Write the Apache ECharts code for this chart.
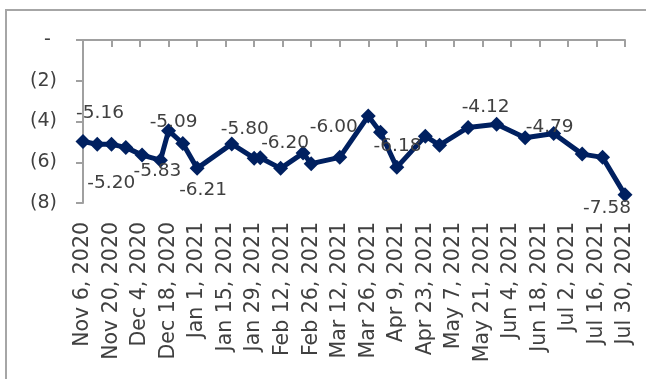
<!DOCTYPE html>
<html>
<head>
<meta charset="utf-8">
<script src="https://cdn.jsdelivr.net/npm/echarts@6/dist/echarts.min.js"></script>
<style>
html,body{margin:0;padding:0;background:#fff;}
#c{width:646px;height:379px;}
</style>
</head>
<body>
<div id="c"></div>
<script>
var startDate = '2020-11-06';
var dates = ['2020-11-06','2020-11-13','2020-11-20','2020-11-27','2020-12-05','2020-12-14','2020-12-18','2020-12-25','2021-01-01','2021-01-18','2021-01-29','2021-02-01','2021-02-11','2021-02-22','2021-02-26','2021-03-12','2021-03-26','2021-04-01','2021-04-09','2021-04-23','2021-04-30','2021-05-14','2021-05-28','2021-06-11','2021-06-25','2021-07-09','2021-07-19','2021-07-30'];
var values = [-4.98,-5.12,-5.12,-5.27,-5.65,-5.9,-4.45,-5.08,-6.3,-5.1,-5.8,-5.78,-6.3,-5.55,-6.07,-5.76,-3.73,-4.53,-6.25,-4.72,-5.16,-4.29,-4.13,-4.8,-4.59,-5.6,-5.76,-7.6];
var pointLabels = ['-5.16','-5.20',null,null,null,'-5.83','-5.09',null,'-6.21','-5.80',null,null,null,'-6.20',null,'-6.00',null,'-6.18',null,null,null,null,'-4.12',null,'-4.79',null,null,'-7.58'];
var tickLabels = ['Nov 6, 2020','Nov 20, 2020','Dec 4, 2020','Dec 18, 2020','Jan 1, 2021','Jan 15, 2021','Jan 29, 2021','Feb 12, 2021','Feb 26, 2021','Mar 12, 2021','Mar 26, 2021','Apr 9, 2021','Apr 23, 2021','May 7, 2021','May 21, 2021','Jun 4, 2021','Jun 18, 2021','Jul 2, 2021','Jul 16, 2021','Jul 30, 2021'];
var yTickLabels = {'0':'- ','-2':'(2)','-4':'(4)','-6':'(6)','-8':'(8)'};

// label placement (style only)
var labelOffsets = {0:[17,-28],1:[14,39],5:[-3,11],6:[5,-8],8:[6,22],9:[13,-15],13:[-18,-10],15:[-6,-30],17:[17,14],22:[-11,-17],24:[-4,-6],27:[-18,13]};

var DAY = 86400000;
var t0 = Date.parse(startDate + 'T00:00:00Z');
function dayOf(s){ return Math.round((Date.parse(s + 'T00:00:00Z') - t0) / DAY); }
var lastDay = 14 * (tickLabels.length - 1);
var FONT = 'DejaVu Sans';

var seriesData = dates.map(function(d, i){
  var item = { value: [dayOf(d), values[i]] };
  if (pointLabels[i]) {
    item.label = {
      show: true,
      position: 'inside',
      formatter: pointLabels[i],
      offset: labelOffsets[i] || [0,-20],
      color: '#404040',
      fontFamily: FONT,
      fontSize: 18.5
    };
  }
  return item;
});

var axisColor = '#a0a0a0';
var chart = echarts.init(document.getElementById('c'), null, {renderer:'canvas'});
chart.setOption({
  animation: false,
  backgroundColor: '#fff',
  graphic: [{
    type: 'rect',
    shape: {x: 6, y: 10, width: 700, height: 420},
    style: {fill: 'none', stroke: '#a6a6a6', lineWidth: 2},
    silent: true
  }],
  grid: {left: 83, right: 21, top: 40, bottom: 176, containLabel: false},
  xAxis: [{
    type: 'value', position: 'bottom', min: 0, max: lastDay, interval: 14,
    axisLine: {show: false}, axisTick: {show: false}, splitLine: {show: false},
    axisLabel: {
      rotate: 90, margin: 19, color: '#404040', fontFamily: FONT, fontSize: 20.5,
      showMinLabel: true, showMaxLabel: true,
      formatter: function(v){ return tickLabels[Math.round(v / 14)] || ''; }
    }
  }, {
    type: 'value', position: 'top', min: 0, max: lastDay, interval: 14,
    axisLine: {show: true, onZero: false, lineStyle: {color: axisColor, width: 2}},
    axisTick: {show: true, inside: true, length: 7, lineStyle: {color: axisColor, width: 2}},
    axisLabel: {show: false}, splitLine: {show: false}
  }],
  yAxis: {
    type: 'value', min: -8, max: 0, interval: 2,
    axisLine: {show: true, onZero: false, lineStyle: {color: axisColor, width: 2}},
    axisTick: {show: true, length: 7, lineStyle: {color: axisColor, width: 2}},
    splitLine: {show: false},
    axisLabel: {
      margin: 26, color: '#404040', fontFamily: FONT, fontSize: 19,
      formatter: function(v){ return yTickLabels[String(v)] || ''; }
    }
  },
  series: [{
    type: 'line',
    xAxisIndex: 0,
    data: seriesData,
    symbol: 'diamond',
    symbolSize: 15,
    showAllSymbol: true,
    lineStyle: {color: '#002060', width: 5},
    itemStyle: {color: '#002060'},
    z: 3
  }]
});
</script>
</body>
</html>
